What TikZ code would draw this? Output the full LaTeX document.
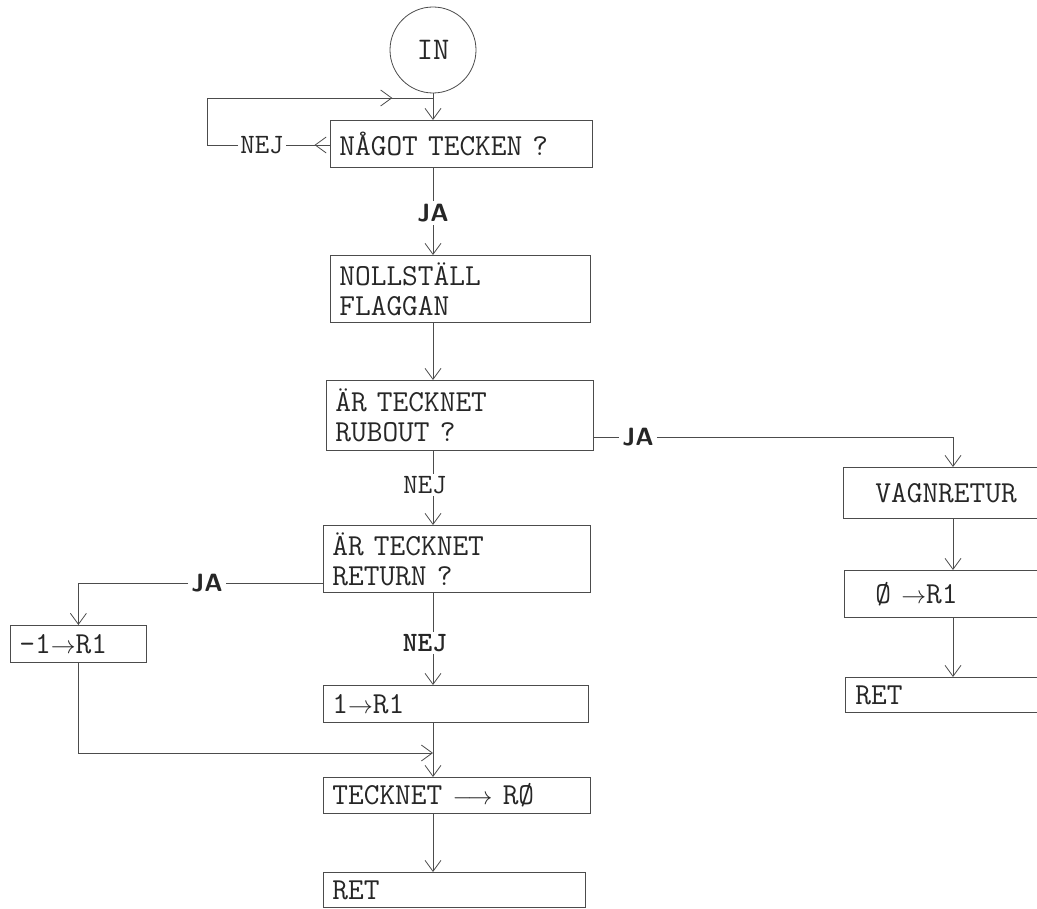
\documentclass[tikz,border=0pt]{standalone}
\usepackage{fontspec}
\usetikzlibrary{arrows.meta,decorations.markings}
\begin{document}
\begin{tikzpicture}[x=1pt,y=-1pt,
  line/.style={draw=black!70, line width=0.8pt},
  arr/.style={line, -{Straight Barb[length=11pt,width=16pt]}},
  box/.style={draw=black!70, line width=0.8pt, anchor=north west, align=left,
    inner xsep=9pt, inner ysep=0pt, font=\fontsize{30.5}{30}\selectfont\ttfamily, text=black!85},
  lab/.style={inner sep=2pt, font=\fontsize{28}{29}\selectfont\ttfamily, text=black!85},
  jlab/.style={inner sep=3pt, font=\fontsize{25}{28}\selectfont\sffamily\bfseries, text=black!85},
  midarr/.style={postaction={decorate}, decoration={markings,
    mark=at position #1 with {\arrow{Straight Barb[length=11pt,width=16pt]}}}}
]
\useasboundingbox (0,0) rectangle (1037,909);

% nodes
\node[draw=black!70, line width=0.8pt, circle, minimum size=86pt, inner sep=0pt,
  font=\fontsize{31.5}{31}\selectfont\ttfamily, text=black!85] (in) at (433,50) {IN};
\node[box, text width=244pt, minimum height=47pt] (b1) at (330,120) {NÅGOT TECKEN ?};
\node[box, text width=242pt, minimum height=67pt] (b2) at (330,255) {NOLLSTÄLL\\FLAGGAN};
\node[box, text width=249pt, minimum height=70pt] (b3) at (326,380) {ÄR TECKNET\\RUBOUT ?};
\node[box, text width=249pt, minimum height=67pt] (b4) at (323,525) {ÄR TECKNET\\RETURN ?};
\node[box, text width=118pt, minimum height=37pt] (b5) at (10,625) {-1$\rightarrow$R1};
\node[box, text width=247pt, minimum height=37pt] (b6) at (323,685) {1$\rightarrow$R1};
\node[box, text width=249pt, minimum height=36pt] (b7) at (323,777) {TECKNET $\longrightarrow$ RØ};
\node[box, text width=244pt, minimum height=35pt] (b8) at (323,872) {RET};
\node[box, inner xsep=32pt, text width=160pt, minimum height=51pt] (v1) at (843,467) {VAGNRETUR};
\node[box, inner xsep=31pt, text width=170pt, minimum height=47pt] (v2) at (844,570) {Ø $\rightarrow$R1};
\node[box, inner xsep=10pt, text width=190pt, minimum height=35pt] (v3) at (845,677) {RET};

% labels
\node[lab] (nej1) at (262,145) {NEJ};
\node[jlab] (ja1) at (433,213) {JA};
\node[lab] (nej2) at (425,485) {NEJ};
\node[jlab] (ja2) at (638,437) {JA};
\node[jlab] (ja3) at (207,583) {JA};
\node[lab, font=\fontsize{28}{29}\selectfont\ttfamily\bfseries] (nej3) at (425,643) {NEJ};

% connectors
\draw[arr] (in.south) -- (in.south |- b1.north);
\draw[line, midarr=0.35] (b1.west |- nej1) -- (nej1.east);
\coordinate (lpA) at (207,145);
\coordinate (lpB) at (207,98);
\coordinate (lpC) at (433,98);
\draw[line] (nej1.west) -- (lpA) -- (lpB);
\draw[line, midarr=0.82] (lpB) -- (lpC);

\draw[line] (in |- b1.south) -- (in |- ja1.north);
\draw[arr] (in |- ja1.south) -- (in |- b2.north);
\draw[arr] (in |- b2.south) -- (in |- b3.north);
\draw[line] (in |- b3.south) -- (in |- nej2.north);
\draw[arr] (in |- nej2.south) -- (in |- b4.north);

\draw[line] (b3.east |- ja2) -- (ja2.west);
\coordinate (vr) at (953,437);
\draw[arr] (ja2.east) -- (vr) -- (vr |- v1.north);
\draw[arr] (vr |- v1.south) -- (vr |- v2.north);
\draw[arr] (vr |- v2.south) -- (vr |- v3.north);

\draw[line] (b4.west |- ja3) -- (ja3.east);
\coordinate (lr) at (b5.north |- ja3);
\draw[arr] (ja3.west) -- (lr) -- (b5.north);
\draw[line] (in |- b4.south) -- (in |- nej3.north);
\draw[arr] (in |- nej3.south) -- (in |- b6.north);

\coordinate (mg) at (433,753);
\coordinate (lb) at (b5.south |- mg);
\draw[arr] (b5.south) -- (lb) -- (mg);
\draw[arr] (in |- b6.south) -- (in |- b7.north);
\draw[arr] (in |- b7.south) -- (in |- b8.north);
\end{tikzpicture}
\end{document}
